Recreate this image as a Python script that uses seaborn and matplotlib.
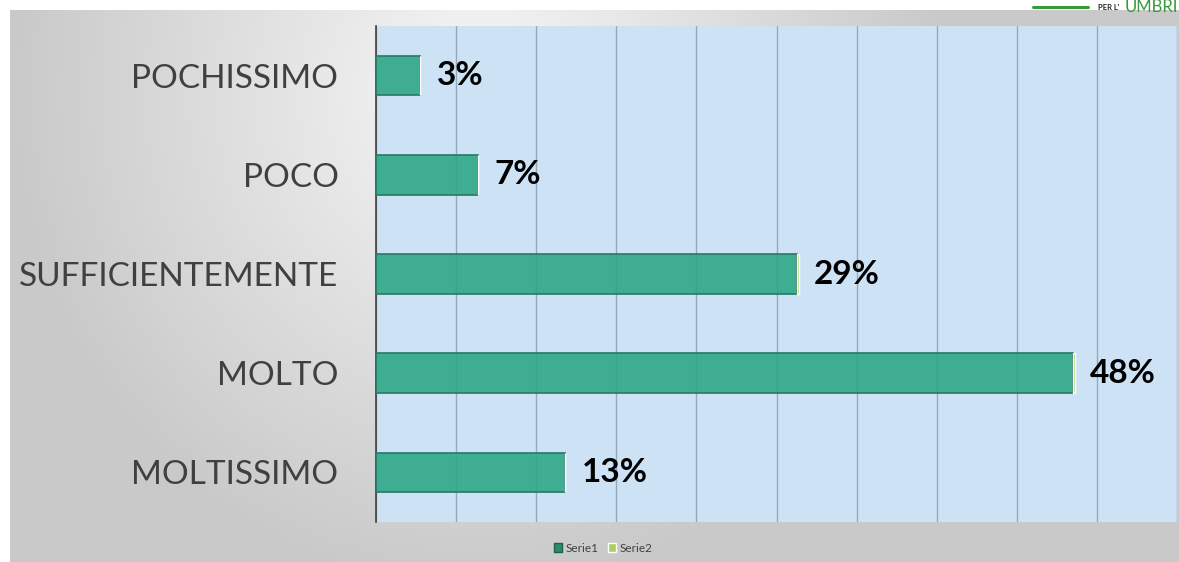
import numpy as np
import pandas as pd
import matplotlib
matplotlib.use("Agg")
import matplotlib.pyplot as plt
from matplotlib.patches import Patch
import seaborn as sns

# dati
categorie = ["POCHISSIMO", "POCO", "SUFFICIENTEMENTE", "MOLTO", "MOLTISSIMO"]
serie1 = [3, 7, 29, 48, 13]
serie2 = [0, 0, 0.15, 0.2, 0]
etichette = ["3%", "7%", "29%", "48%", "13%"]

sns.set_theme(style="white")
plt.rcParams['font.family'] = ['Lato', 'DejaVu Sans']

W, H = 1179, 562
fig = plt.figure(figsize=(W / 100, H / 100), dpi=100)
fig.patch.set_facecolor("white")

# sfondo grigio sfumato (come la slide)
bg = fig.add_axes([10 / W, 0, 1 - 10 / W, 1 - 10 / H])
gx, gy = np.meshgrid(np.linspace(0, 1, 300), np.linspace(0, 1, 150))
d = np.sqrt(((gx - 0.40) / 0.40) ** 2 + ((gy - 0.15) / 0.9) ** 2)
val = 0.97 - 0.18 * np.clip(d, 0, 1)
bg.imshow(np.dstack([val, val, val]), aspect="auto", extent=(0, 1, 1, 0))
bg.set_axis_off()

ax = fig.add_axes([376 / W, 1 - 522 / H, 801 / W, 496 / H])
ax.set_facecolor("#cde3f5")

df = pd.DataFrame({"categoria": categorie, "Serie1": serie1, "Serie2": serie2})
sns.barplot(data=df, y="categoria", x="Serie1", orient="h", ax=ax,
            color="#2aa684", saturation=1, alpha=0.88, width=0.4,
            edgecolor="#2b7a66", linewidth=1.4, zorder=3)
ax.barh(np.arange(len(categorie)), df["Serie2"], left=df["Serie1"], height=0.4,
        color="#a6d15a", zorder=3)

xmax = 55.2
ax.set_xlim(0, xmax)
ax.set_ylim(len(categorie) - 0.5, -0.5)
ax.set_xticks(np.linspace(0, xmax, 11))
ax.set_xticklabels([])
ax.tick_params(axis="x", length=0)
ax.grid(axis="x", color="#93a9bd", linewidth=1, zorder=0)
ax.set_axisbelow(True)
ax.set_xlabel("")
ax.set_ylabel("")
for s in ["top", "right", "bottom"]:
    ax.spines[s].set_visible(False)
ax.spines["left"].set_color("#404040")
ax.spines["left"].set_linewidth(1.2)
ax.tick_params(axis="y", length=0, pad=27, labelsize=24, labelcolor="#404040")

for i, (v, t) in enumerate(zip(serie1, etichette)):
    ax.text(v + 1.2, i, t, va="center", ha="left", fontsize=24,
            fontweight="bold", color="black", zorder=5)

handles = [Patch(facecolor="#2e8a6e", edgecolor="#1f5f4c", label="Serie1"),
           Patch(facecolor="#a6d15a", label="Serie2")]
fig.legend(handles=handles, loc="center", bbox_to_anchor=(603 / W, 1 - 548 / H),
           ncol=2, frameon=False, fontsize=8.5, handlelength=0.7, handleheight=0.7,
           handletextpad=0.3, columnspacing=0.8, labelcolor="#404040")

# logo in alto a destra (tagliato dal bordo come nell'originale)
fig.add_artist(plt.Line2D([1033 / W, 1088 / W], [1 - 7 / H, 1 - 7 / H],
                          color="#3a9a3a", linewidth=2.2))
fig.text(1098 / W, 1 - 8 / H, "PER L'", fontsize=5.5, fontweight="bold",
         color="#222222", va="center")
fig.text(1178 / W, 1 - 7 / H, "UMBRI", fontsize=12, color="#3a9a3a",
         va="center", ha="right")

fig.savefig("out.png", dpi=100)
